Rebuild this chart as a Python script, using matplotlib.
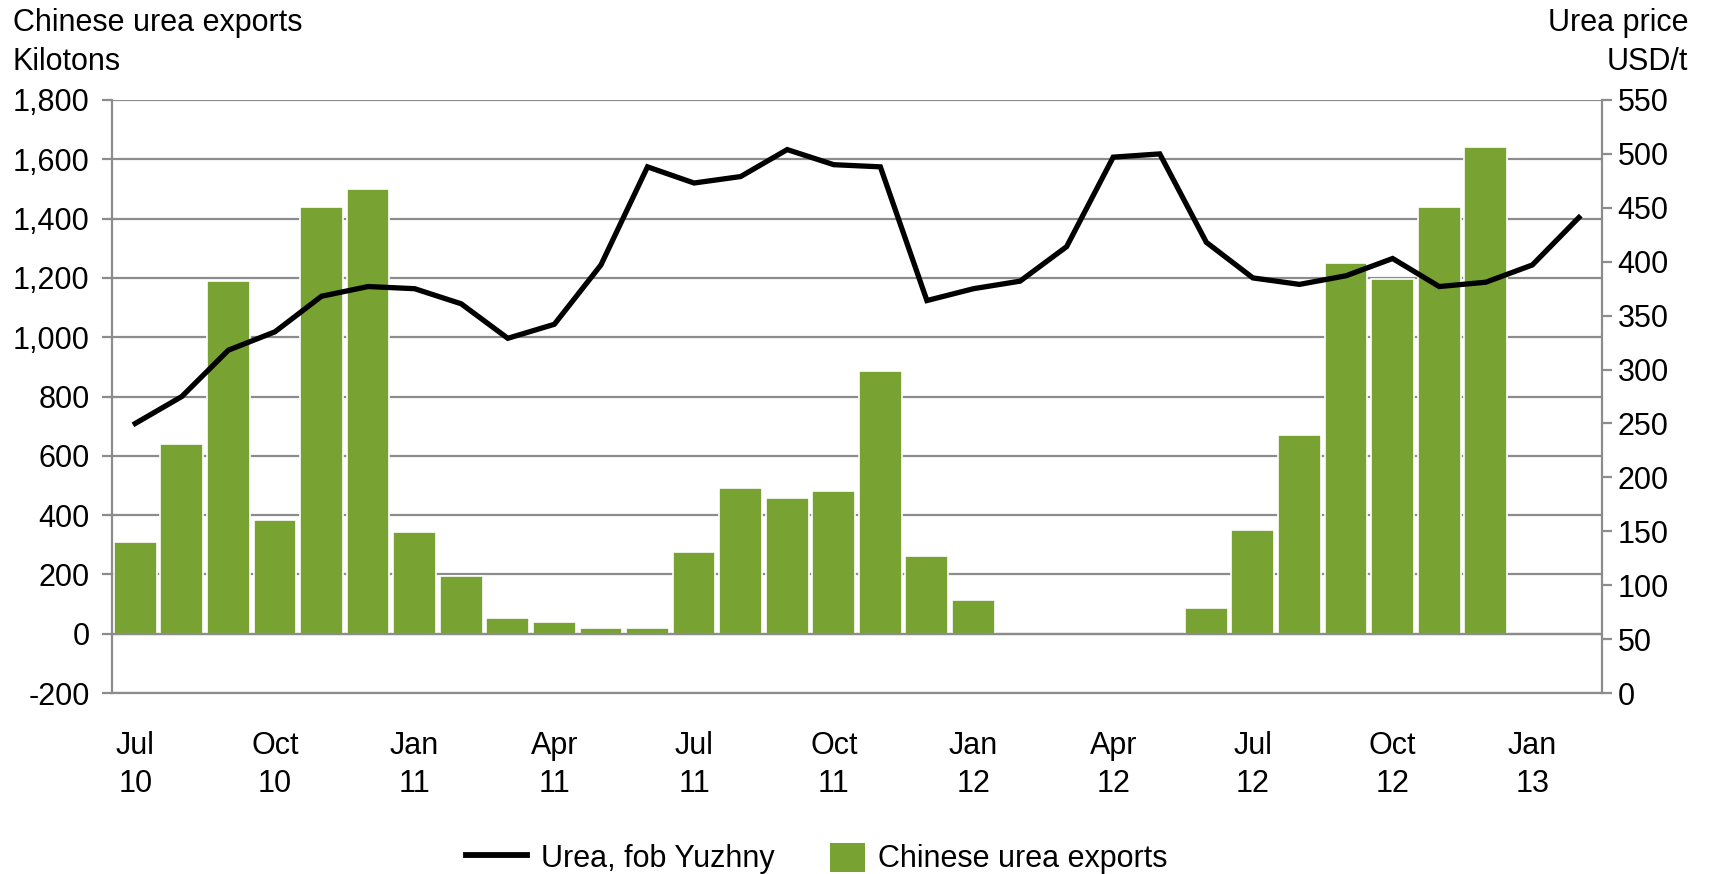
import numpy as np
import matplotlib
matplotlib.use("Agg")
import matplotlib.pyplot as plt
from matplotlib.lines import Line2D
from matplotlib.patches import Patch, Rectangle
from matplotlib.legend_handler import HandlerPatch

plt.rcParams["font.family"] = ["Liberation Sans", "DejaVu Sans"]

months = ["Jul", "Aug", "Sep", "Oct", "Nov", "Dec",
          "Jan", "Feb", "Mar", "Apr", "May", "Jun",
          "Jul", "Aug", "Sep", "Oct", "Nov", "Dec",
          "Jan", "Feb", "Mar", "Apr", "May", "Jun",
          "Jul", "Aug", "Sep", "Oct", "Nov", "Dec",
          "Jan", "Feb"]
years = ["10"] * 6 + ["11"] * 12 + ["12"] * 12 + ["13"] * 2

# Chinese urea exports, kilotons (NaN = no bar shown)
exports = [308, 639, 1190, 383, 1439, 1500,
           342, 195, 52, 39, 18, 18,
           275, 490, 457, 482, 887, 261,
           113, np.nan, np.nan, np.nan, np.nan, 86,
           349, 671, 1249, 1197, 1439, 1641,
           np.nan, np.nan]

# Urea, fob Yuzhny, USD/t
price = [250, 275, 318, 335, 368, 377,
         375, 361, 329, 342, 397, 488,
         473, 479, 504, 490, 488, 364,
         375, 382, 414, 497, 500, 418,
         385, 379, 387, 403, 377, 381,
         397, 441]

green = "#78A232"
grey = "#8C8C8C"
fs = 22

fig = plt.figure(figsize=(17.09, 8.74), dpi=100)
ax = fig.add_axes([0.0655, 0.207, 0.872, 0.6786])
ax2 = ax.twinx()

x = np.arange(len(months))
ax.bar(x, exports, width=0.92, color=green, edgecolor="white", linewidth=1.2, zorder=2)
ax2.plot(x, price, color="black", lw=3.8, solid_joinstyle="miter", zorder=3)

ax.set_xlim(-0.5, len(months) - 0.5)
ax.set_ylim(-200, 1800)
ax.set_yticks(range(-200, 1801, 200))
ax.set_yticklabels([f"{v:,}" for v in range(-200, 1801, 200)])
ax2.set_ylim(0, 550)
ax2.set_yticks(range(0, 551, 50))

ax.set_axisbelow(True)
ax.grid(axis="y", color=grey, lw=1.6, zorder=0)
ax.axhline(0, color=grey, lw=1.6, zorder=2.5)

tick_pos = x[::3]
ax.set_xticks(tick_pos)
ax.set_xticklabels([f"{months[i]}\n{years[i]}" for i in tick_pos], linespacing=1.38)

for a in (ax, ax2):
    for s in a.spines.values():
        s.set_color(grey)
        s.set_linewidth(1.6)
    a.spines["top"].set_visible(False)
ax.spines["right"].set_visible(False)
ax2.spines["left"].set_visible(False)
ax2.spines["bottom"].set_visible(False)

ax.tick_params(axis="y", labelsize=fs, length=7, width=1.6, color=grey, pad=9)
ax.tick_params(axis="x", labelsize=fs, length=0, pad=27)
ax2.tick_params(axis="y", labelsize=fs, length=7, width=1.6, color=grey, pad=4)

fig.text(0.0075, 0.991, "Chinese urea exports\nKilotons", ha="left", va="top",
         fontsize=fs, linespacing=1.4)
fig.text(0.988, 0.991, "Urea price\nUSD/t", ha="right", va="top",
         fontsize=fs, linespacing=1.4, multialignment="right")


def square_patch(legend, orig_handle, xdescent, ydescent, width, height, fontsize):
    w = height * 1.2
    return Rectangle((-xdescent + width - w, -ydescent), w, height)


handles = [Line2D([0], [0], color="black", lw=4.2),
           Patch(facecolor=green, edgecolor="none")]
fig.legend(handles, ["Urea, fob Yuzhny", "Chinese urea exports"],
           loc="lower center", bbox_to_anchor=(0.478, -0.032), ncol=2, frameon=False,
           fontsize=fs, handlelength=2.0, handleheight=1.08, columnspacing=0.95,
           handletextpad=0.45,
           handler_map={Patch: HandlerPatch(patch_func=square_patch)})

fig.savefig("out.png", dpi=100)
